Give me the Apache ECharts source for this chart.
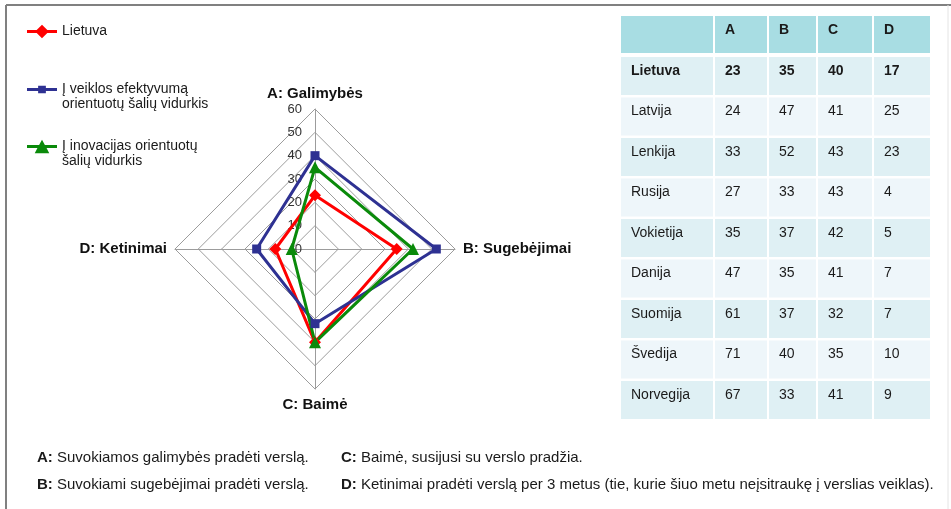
<!DOCTYPE html>
<html>
<head>
<meta charset="utf-8">
<title>Verslumo rodikliai</title>
<script src="https://cdn.jsdelivr.net/npm/echarts@6/dist/echarts.min.js"></script>
<style>
  html, body { margin: 0; padding: 0; background: #fff; }
  #main { width: 951px; height: 509px; }
</style>
</head>
<body>
<div id="main"></div>
<script>
// radar axes (A top, B right, C bottom, D left)
var axisNames = ['A: Galimybės', 'B: Sugebėjimai', 'C: Baimė', 'D: Ketinimai']
var seriesNames = [
  'Lietuva',
  'Į veiklos efektyvumą\norientuotų šalių vidurkis',
  'Į inovacijas orientuotų\nšalių vidurkis'
]
var lietuva = [23, 35, 40, 17]
var efektyvumo = [40, 52, 32, 25]
var inovaciju = [35, 42, 40, 10]
var radarMax = 60

// table
var tableHead = ['', 'A', 'B', 'C', 'D']
var countries = ['Lietuva', 'Latvija', 'Lenkija', 'Rusija', 'Vokietija', 'Danija', 'Suomija', 'Švedija', 'Norvegija']
var colA = [23, 24, 33, 27, 35, 47, 61, 71, 67]
var colB = [35, 47, 52, 33, 37, 35, 37, 40, 33]
var colC = [40, 41, 43, 43, 42, 41, 32, 35, 41]
var colD = [17, 25, 23, 4, 5, 7, 7, 10, 9]

// footnotes
var notes = [
  ['A:', 'Suvokiamos galimybės pradėti verslą.'],
  ['B:', 'Suvokiami sugebėjimai pradėti verslą.'],
  ['C:', 'Baimė, susijusi su verslo pradžia.'],
  ['D:', 'Ketinimai pradėti verslą per 3 metus (tie, kurie šiuo metu neįsitraukę į verslias veiklas).']
]

var colors = ['#ff0000', '#2e3192', '#0a8a0a']
var symbols = ['diamond', 'rect', 'triangle']
// legend icons: line with the marker in the middle (31 x 14 box)
var legendIcons = [
  'path://M0,5.5L10,5.5L15.5,0L21,5.5L31,5.5L31,8.5L21,8.5L15.5,14L10,8.5L0,8.5Z',
  'path://M0,0L0,0L0,5.5L11.5,5.5L11.5,3L19.5,3L19.5,5.5L31,5.5L31,8.5L19.5,8.5L19.5,11L11.5,11L11.5,8.5L0,8.5L0,14L0,14Z',
  'path://M0,5.5L12.5,5.5L15.5,0L18.5,5.5L31,5.5L31,8.5L20.2,8.5L23,14L8,14L10.8,8.5L0,8.5Z'
]

// echarts lays radar axes counter-clockwise, so feed them as A, D, C, B
var order = [0, 3, 2, 1]
function reorder(arr) {
  return order.map(function (i) { return arr[i] })
}

var chart = echarts.init(document.getElementById('main'))

// table graphic
var colX = [621, 715, 769, 818, 874]
var colW = [92, 52, 47, 54, 56]
var tableEls = []
function addRow(cells, top, h, fill, bold) {
  cells.forEach(function (txt, j) {
    tableEls.push({
      type: 'rect',
      shape: { x: colX[j], y: top, width: colW[j], height: h },
      style: { fill: fill }
    })
    tableEls.push({
      type: 'text',
      x: colX[j] + 10,
      y: top + 14,
      style: {
        text: String(txt),
        fill: '#1a1a1a',
        font: (bold ? 'bold ' : '') + '14px "Liberation Sans", Arial, sans-serif',
        verticalAlign: 'middle'
      }
    })
  })
}
addRow(tableHead, 16, 37, '#a8dde3', true)
countries.forEach(function (c, i) {
  addRow([c, colA[i], colB[i], colC[i], colD[i]], 57 + i * 40.5, 38,
    i % 2 === 0 ? '#dff0f4' : '#eef6fa', i === 0)
})

// footnotes
var noteEls = notes.map(function (n, i) {
  return {
    type: 'text',
    x: i < 2 ? 37 : 341,
    y: i % 2 === 0 ? 458 : 485,
    style: {
      text: '{k|' + n[0] + '} ' + n[1],
      fill: '#1a1a1a',
      font: '15px "Liberation Sans", Arial, sans-serif',
      verticalAlign: 'middle',
      rich: { k: { fontWeight: 'bold', fontSize: 15, fontFamily: '"Liberation Sans", Arial, sans-serif' } }
    }
  }
})

var legendBase = {
  orient: 'vertical',
  left: 27,
  padding: 0,
  itemWidth: 30,
  itemHeight: 14,
  itemGap: 0,
  selectedMode: false,
  textStyle: {
    color: '#1a1a1a',
    fontSize: 14,
    lineHeight: 15,
    fontFamily: '"Liberation Sans", Arial, sans-serif'
  }
}
// two-line names: a blank first line keeps the icon beside the first text line
function padFirst(name) { return '\n' + name }

var option = {
  animation: false,
  legend: [
    Object.assign({}, legendBase, { top: 24, icon: legendIcons[0], data: [seriesNames[0]] }),
    Object.assign({}, legendBase, { top: 67, icon: legendIcons[1], data: [seriesNames[1]], formatter: padFirst }),
    Object.assign({}, legendBase, { top: 124, icon: legendIcons[2], data: [seriesNames[2]], formatter: padFirst })
  ],
  radar: {
    center: [315, 249],
    radius: 140,
    startAngle: 90,
    shape: 'polygon',
    splitNumber: 6,
    nameGap: 8,
    axisName: {
      color: '#111',
      fontWeight: 'bold',
      fontSize: 15,
      fontFamily: '"Liberation Sans", Arial, sans-serif'
    },
    indicator: reorder(axisNames).map(function (name, i) {
      var ind = { name: name, min: 0, max: radarMax }
      if (i === 0) {
        ind.axisLabel = {
          show: true,
          color: '#333',
          fontSize: 13,
          margin: 13,
          fontFamily: '"Liberation Sans", Arial, sans-serif'
        }
      }
      return ind
    }),
    axisLabel: { show: false },
    axisTick: { show: false },
    splitArea: { show: false },
    splitLine: { lineStyle: { color: '#9c9c9c', width: 1 } },
    axisLine: { lineStyle: { color: '#9c9c9c', width: 1 } }
  },
  series: [{
    type: 'radar',
    data: [lietuva, efektyvumo, inovaciju].map(function (vals, i) {
      return {
        name: seriesNames[i],
        value: reorder(vals),
        symbol: symbols[i],
        symbolSize: i === 1 ? 9 : 12,
        itemStyle: { color: colors[i] },
        lineStyle: { color: colors[i], width: 3 }
      }
    })
  }],
  graphic: [
    { type: 'line', shape: { x1: 6, y1: 5, x2: 951, y2: 5 }, style: { stroke: '#808080', lineWidth: 2 } },
    { type: 'line', shape: { x1: 6, y1: 5, x2: 6, y2: 509 }, style: { stroke: '#808080', lineWidth: 2 } },
    { type: 'line', shape: { x1: 948, y1: 5, x2: 948, y2: 509 }, style: { stroke: '#e4e4e4', lineWidth: 1 } },
    { type: 'group', children: tableEls },
    { type: 'group', children: noteEls }
  ]
}

chart.setOption(option)
</script>
</body>
</html>
